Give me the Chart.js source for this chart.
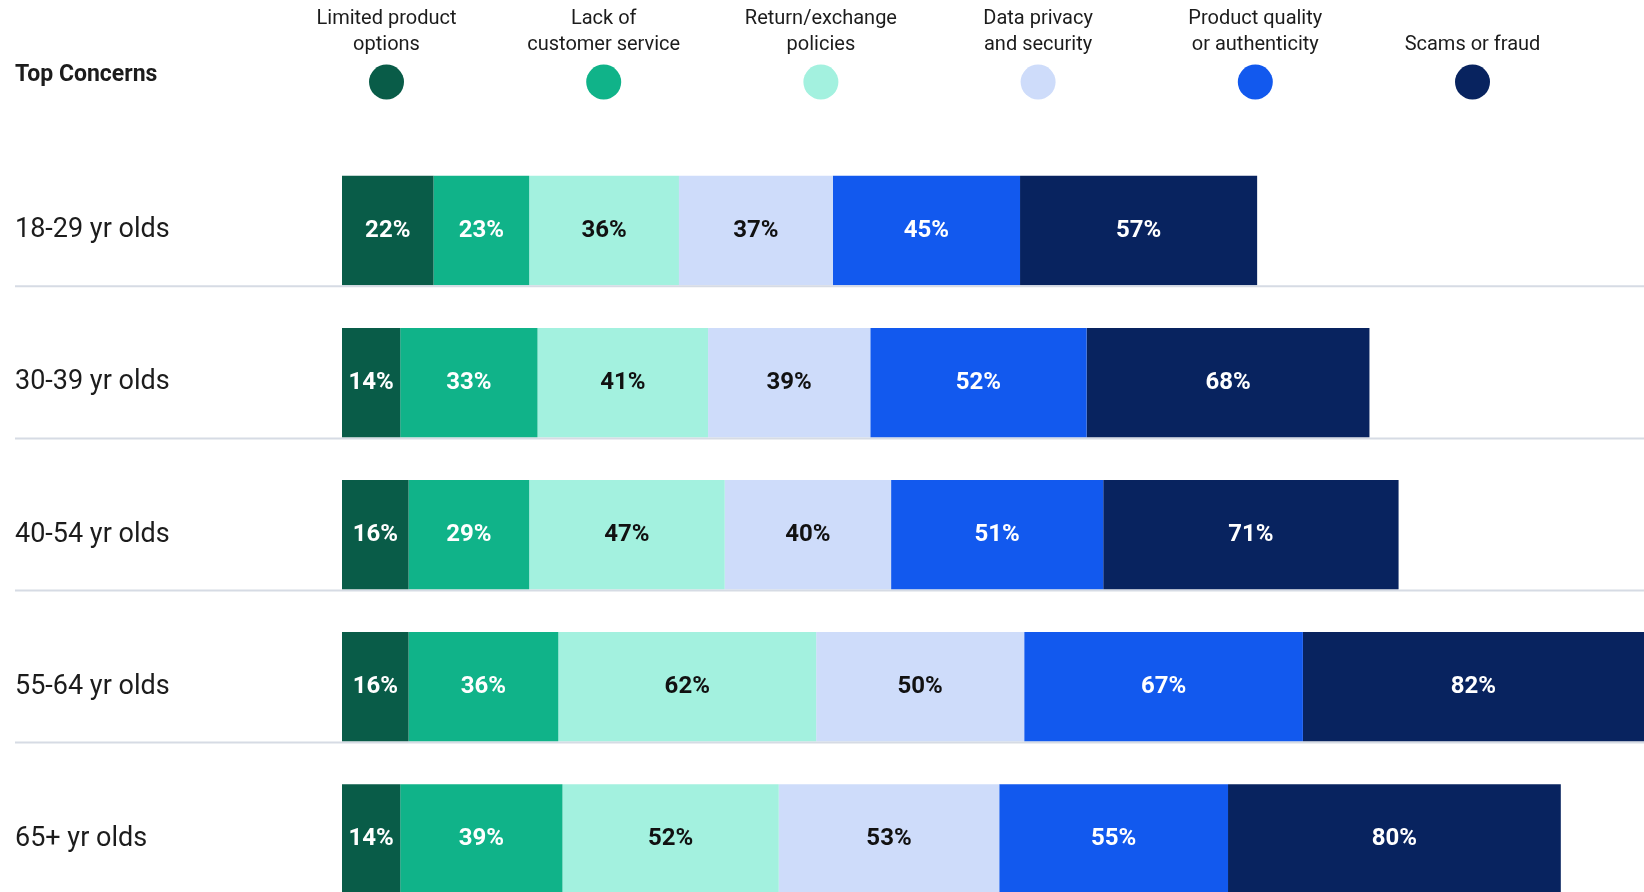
<!DOCTYPE html>
<html>
<head>
<meta charset="utf-8">
<script src="https://cdn.jsdelivr.net/npm/chart.js@4/dist/chart.umd.min.js"></script>
<style>
  html, body { margin: 0; padding: 0; background: #fff; overflow: hidden; }
  #wrap { width: 1644px; height: 915px; }
</style>
</head>
<body>
<div id="wrap"><canvas id="chart" width="1644" height="915"></canvas></div>
<script>
const ageGroups = ['18-29 yr olds', '30-39 yr olds', '40-54 yr olds', '55-64 yr olds', '65+ yr olds'];

const limitedOptions = [22, 14, 16, 16, 14];
const lackOfService  = [23, 33, 29, 36, 39];
const returnPolicies = [36, 41, 47, 62, 52];
const dataPrivacy    = [37, 39, 40, 50, 53];
const productQuality = [45, 52, 51, 67, 55];
const scamsFraud     = [57, 68, 71, 82, 80];

const concernNames = [
    ['Limited product', 'options'],
    ['Lack of', 'customer service'],
    ['Return/exchange', 'policies'],
    ['Data privacy', 'and security'],
    ['Product quality', 'or authenticity'],
    ['Scams or fraud']
];
const concernColors = ['#095c48', '#10b389', '#a3f1df', '#cedcfa', '#1259ee', '#08235f'];
const labelColors   = ['#ffffff', '#ffffff', '#111111', '#111111', '#ffffff', '#ffffff'];
const seriesValues  = [limitedOptions, lackOfService, returnPolicies, dataPrivacy, productQuality, scamsFraud];

const textColor = '#1c1c1c';
const fontFamily = 'Roboto, "Noto Sans", sans-serif';

// header: title on the left, legend labels stacked over coloured dots
const headerPlugin = {
    id: 'header',
    afterDraw(chart) {
        const ctx = chart.ctx;
        ctx.save();
        ctx.fillStyle = textColor;
        ctx.textBaseline = 'middle';
        ctx.textAlign = 'left';
        ctx.font = 'bold 23px ' + fontFamily;
        ctx.fillText('Top Concerns', 15, 75);

        ctx.font = '20px ' + fontFamily;
        ctx.textAlign = 'center';
        for (let i = 0; i < concernNames.length; i++) {
            const cx = 386.5 + i * 217.2;
            const lines = concernNames[i];
            if (lines.length === 1) {
                ctx.fillText(lines[0], cx, 45);
            } else {
                ctx.fillText(lines[0], cx, 19);
                ctx.fillText(lines[1], cx, 45);
            }
            ctx.beginPath();
            ctx.fillStyle = concernColors[i];
            ctx.arc(cx, 82, 17.5, 0, Math.PI * 2);
            ctx.fill();
            ctx.fillStyle = textColor;
        }
        ctx.restore();
    }
};

// percent labels in the middle of each segment, plus row separators
const segmentPlugin = {
    id: 'segments',
    afterDatasetsDraw(chart) {
        const ctx = chart.ctx;
        ctx.save();
        const first = chart.getDatasetMeta(0);
        ctx.strokeStyle = '#d6dbe4';
        ctx.lineWidth = 2;
        first.data.forEach((bar) => {
            const y = bar.y + bar.height / 2 + 1;
            ctx.beginPath();
            ctx.moveTo(15, y);
            ctx.lineTo(chart.width, y);
            ctx.stroke();
        });

        ctx.font = 'bold 24px ' + fontFamily;
        ctx.textAlign = 'center';
        ctx.textBaseline = 'middle';
        chart.data.datasets.forEach((ds, d) => {
            const meta = chart.getDatasetMeta(d);
            ctx.fillStyle = labelColors[d];
            meta.data.forEach((bar, i) => {
                ctx.fillText(ds.data[i] + '%', (bar.x + bar.base) / 2, bar.y);
            });
        });
        ctx.restore();
    }
};

function getChart() {
    const ctx = document.getElementById('chart').getContext('2d');
    return new Chart(ctx, {
        type: 'bar',
        data: {
            labels: ageGroups,
            datasets: seriesValues.map((values, i) => ({
                label: concernNames[i].join(' '),
                data: values,
                backgroundColor: concernColors[i],
                borderWidth: 0,
                barPercentage: 0.72,
                categoryPercentage: 1
            }))
        },
        options: {
            indexAxis: 'y',
            responsive: false,
            animation: false,
            layout: {
                padding: { top: 154.5, left: 15, right: 0, bottom: 0 }
            },
            scales: {
                x: {
                    display: false,
                    stacked: true,
                    min: 0,
                    max: 313
                },
                y: {
                    stacked: true,
                    grid: { display: false },
                    border: { display: false },
                    ticks: {
                        crossAlign: 'far',
                        color: textColor,
                        font: { family: fontFamily, size: 27 }
                    },
                    afterFit(scale) {
                        scale.width = 327;
                        scale.paddingTop = 0;
                        scale.paddingBottom = 0;
                    }
                }
            },
            plugins: {
                legend: { display: false },
                tooltip: { enabled: false }
            }
        },
        plugins: [headerPlugin, segmentPlugin]
    });
}

getChart();
</script>
</body>
</html>
